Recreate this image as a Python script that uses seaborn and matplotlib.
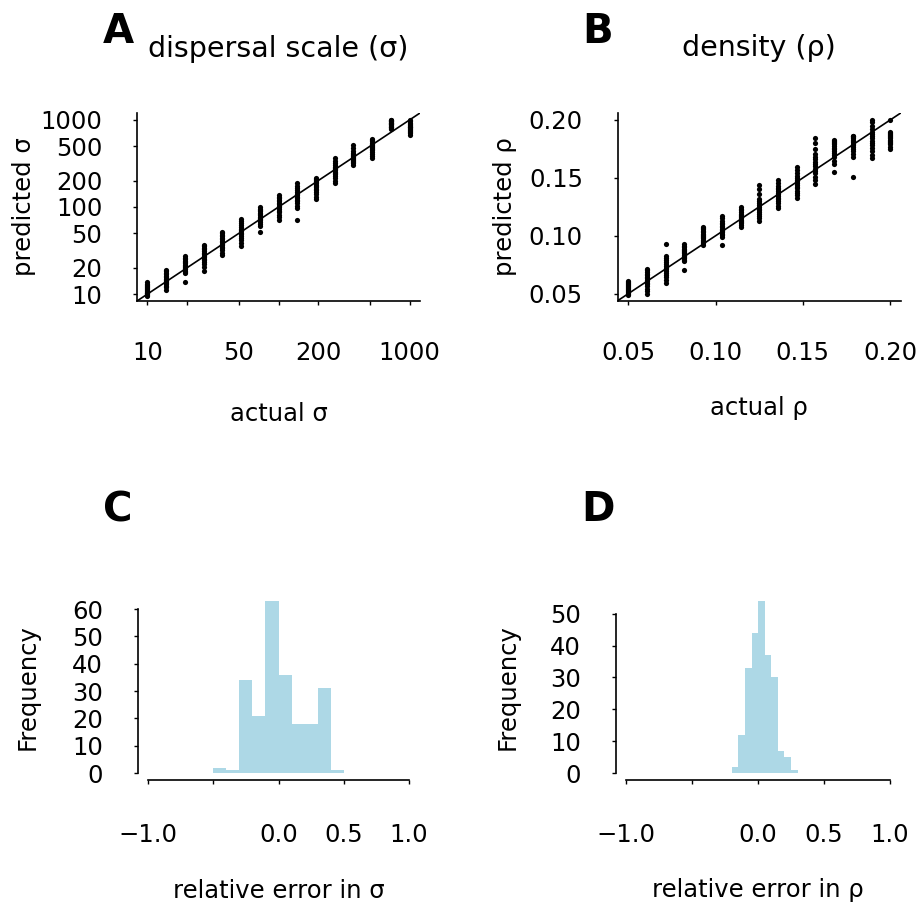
import numpy as np
import pandas as pd
import matplotlib
matplotlib.use("Agg")
import matplotlib.pyplot as plt
import seaborn as sns

sns.set_theme(style="white")
plt.rcParams["font.family"] = ["DejaVu Sans"]
plt.rcParams["axes.unicode_minus"] = True
plt.rcParams["text.color"] = "black"

# ---- dispersal scale: actual values and 15 predictions per value ----
sigma_actual = [10, 13.9, 19.3, 26.8, 37.3, 51.8, 72, 100, 139, 193, 268, 373, 518, 720, 1000]
sigma_pred = [
    [9.5, 9.8, 10.0, 10.2, 10.4, 10.6, 10.9, 11.1, 11.4, 11.7, 12.0, 12.4, 12.8, 13.2, 13.6],
    [11.2, 11.9, 12.4, 12.9, 13.3, 13.7, 14.1, 14.5, 15.0, 15.5, 16.0, 16.8, 17.5, 18.3, 19.0],
    [13.6, 17.4, 18.0, 18.6, 19.2, 19.8, 20.4, 21.0, 21.8, 22.6, 23.4, 24.2, 25.0, 26.0, 27.0],
    [18.6, 20.5, 22.3, 23.6, 24.6, 25.6, 26.6, 27.6, 28.6, 29.8, 31.0, 32.5, 34.0, 35.5, 37.0],
    [28.0, 30.0, 32.0, 33.5, 35.0, 36.5, 38.0, 39.5, 41.0, 42.5, 44.0, 46.0, 48.0, 50.0, 52.0],
    [36.0, 39.0, 42.0, 44.5, 46.5, 48.5, 50.5, 52.5, 54.5, 56.5, 59.0, 62.0, 65.0, 68.5, 72.0],
    [52.0, 60.0, 64.0, 67.0, 70.0, 72.5, 75.0, 77.5, 80.0, 83.0, 86.0, 89.0, 92.0, 95.5, 99.0],
    [70.0, 76.0, 82.0, 87.0, 91.0, 95.0, 99.0, 103.0, 107.0, 111.0, 116.0, 121.0, 126.0, 132.0, 138.0],
    [70.0, 98.0, 104.0, 110.0, 116.0, 121.0, 126.0, 131.0, 136.0, 141.0, 147.0, 155.0, 165.0, 176.0, 188.0],
    [123.0, 132.0, 142.0, 150.0, 157.0, 163.0, 169.0, 175.0, 181.0, 187.0, 193.0, 199.0, 205.0, 211.0, 218.0],
    [188.0, 200.0, 215.0, 228.0, 238.0, 247.0, 255.0, 263.0, 271.0, 280.0, 290.0, 302.0, 318.0, 340.0, 364.0],
    [306.0, 320.0, 332.0, 342.0, 350.0, 358.0, 366.0, 374.0, 382.0, 392.0, 404.0, 418.0, 440.0, 475.0, 513.0],
    [366.0, 385.0, 410.0, 430.0, 448.0, 462.0, 476.0, 490.0, 504.0, 518.0, 532.0, 548.0, 566.0, 588.0, 612.0],
    [779.0, 800.0, 820.0, 840.0, 858.0, 875.0, 890.0, 905.0, 920.0, 935.0, 950.0, 962.0, 975.0, 988.0, 1000.0],
    [680.0, 700.0, 720.0, 740.0, 760.0, 780.0, 800.0, 820.0, 840.0, 860.0, 885.0, 910.0, 935.0, 965.0, 995.0],
]

# ---- density: actual values and 15 predictions per value ----
rho_actual = [0.05, 0.0607, 0.0714, 0.0821, 0.0929, 0.1036, 0.1143, 0.125,
              0.1357, 0.1464, 0.1571, 0.1679, 0.1786, 0.1893, 0.2]
rho_pred = [
    [0.0486, 0.0500, 0.0510, 0.0518, 0.0525, 0.0532, 0.0540, 0.0548, 0.0556, 0.0564, 0.0572, 0.0580, 0.0590, 0.0600, 0.0610],
    [0.0494, 0.0520, 0.0545, 0.0565, 0.0580, 0.0595, 0.0608, 0.0620, 0.0632, 0.0645, 0.0658, 0.0672, 0.0688, 0.0703, 0.0717],
    [0.0593, 0.0620, 0.0645, 0.0665, 0.0682, 0.0698, 0.0712, 0.0726, 0.0740, 0.0755, 0.0770, 0.0788, 0.0808, 0.0830, 0.0929],
    [0.0709, 0.0780, 0.0795, 0.0808, 0.0818, 0.0828, 0.0838, 0.0848, 0.0858, 0.0868, 0.0878, 0.0890, 0.0902, 0.0915, 0.0929],
    [0.0920, 0.0935, 0.0948, 0.0958, 0.0968, 0.0978, 0.0988, 0.0998, 0.1008, 0.1018, 0.1030, 0.1042, 0.1055, 0.1068, 0.1080],
    [0.0920, 0.0990, 0.1005, 0.1018, 0.1030, 0.1040, 0.1050, 0.1060, 0.1072, 0.1085, 0.1098, 0.1112, 0.1128, 0.1150, 0.1170],
    [0.1080, 0.1095, 0.1108, 0.1120, 0.1130, 0.1140, 0.1150, 0.1160, 0.1170, 0.1180, 0.1192, 0.1205, 0.1220, 0.1235, 0.1250],
    [0.1130, 0.1150, 0.1170, 0.1190, 0.1205, 0.1220, 0.1235, 0.1250, 0.1265, 0.1280, 0.1298, 0.1318, 0.1360, 0.1400, 0.1440],
    [0.1240, 0.1260, 0.1280, 0.1300, 0.1315, 0.1330, 0.1345, 0.1358, 0.1372, 0.1386, 0.1400, 0.1415, 0.1432, 0.1455, 0.1480],
    [0.1330, 0.1350, 0.1370, 0.1390, 0.1410, 0.1425, 0.1440, 0.1455, 0.1470, 0.1485, 0.1500, 0.1520, 0.1545, 0.1570, 0.1590],
    [0.1450, 0.1480, 0.1510, 0.1540, 0.1560, 0.1580, 0.1600, 0.1620, 0.1640, 0.1660, 0.1680, 0.1710, 0.1750, 0.1800, 0.1840],
    [0.1550, 0.1620, 0.1650, 0.1680, 0.1700, 0.1715, 0.1730, 0.1745, 0.1760, 0.1775, 0.1790, 0.1800, 0.1810, 0.1820, 0.1830],
    [0.1510, 0.1680, 0.1710, 0.1730, 0.1750, 0.1765, 0.1780, 0.1795, 0.1810, 0.1820, 0.1830, 0.1840, 0.1850, 0.1860, 0.1860],
    [0.1670, 0.1700, 0.1730, 0.1760, 0.1780, 0.1800, 0.1820, 0.1840, 0.1860, 0.1880, 0.1900, 0.1920, 0.1950, 0.1980, 0.2000],
    [0.1750, 0.1770, 0.1790, 0.1800, 0.1810, 0.1820, 0.1830, 0.1840, 0.1850, 0.1860, 0.1870, 0.1880, 0.1890, 0.1900, 0.2000],
]

# ---- relative-error histograms (bin edges and counts) ----
sigma_err_edges = [-0.5, -0.4, -0.3, -0.2, -0.1, 0.0, 0.1, 0.2, 0.3, 0.4, 0.5]
sigma_err_counts = [2, 1, 34, 21, 63, 36, 18, 18, 31, 1]
rho_err_edges = [-0.2, -0.15, -0.1, -0.05, 0.0, 0.05, 0.1, 0.15, 0.2, 0.25, 0.3]
rho_err_counts = [2, 12, 33, 44, 54, 37, 30, 7, 5, 1]

sigma_ticks = [10, 20, 50, 100, 200, 500, 1000]
sigma_xlabels = ["10", "", "50", "", "200", "", "1000"]
rho_ticks = [0.05, 0.10, 0.15, 0.20]
err_ticks = [-1.0, -0.5, 0.0, 0.5, 1.0]
err_labels = ["\u22121.0", "", "0.0", "0.5", "1.0"]


def long_table(actual, pred):
    rows = [(a, p) for a, col in zip(actual, pred) for p in col]
    return pd.DataFrame(rows, columns=["actual", "predicted"])


W, H = 917, 907
fig = plt.figure(figsize=(W / 100, H / 100), dpi=100)


def px_axes(left, top, right, bottom):
    return fig.add_axes([left / W, 1 - bottom / H, (right - left) / W, (bottom - top) / H])


TICK_FS = 17.5
LAB_FS = 17.5
TITLE_FS = 20.5
LETTER_FS = 29
LW = 1.2

axA = px_axes(137, 113, 420, 301)
axB = px_axes(617.7, 113, 900.7, 300.7)
axC = px_axes(137.6, 594, 419.4, 780)
axD = px_axes(615.7, 594, 900.5, 780)

# ---- A: predicted vs actual dispersal scale (log-log) ----
dfA = long_table(sigma_actual, sigma_pred)
sns.scatterplot(data=dfA, x="actual", y="predicted", ax=axA, color="black",
                s=14, linewidth=0, legend=False)
axA.set_xscale("log")
axA.set_yscale("log")
lo, hi = 10 ** 0.92, 10 ** 3.08
axA.set_xlim(lo, hi)
axA.set_ylim(lo, hi)
axA.axline((10, 10), (1000, 1000), color="black", lw=LW)
axA.set_xticks(sigma_ticks)
axA.set_xticklabels(sigma_xlabels)
axA.set_yticks(sigma_ticks)
axA.set_yticklabels([str(t) for t in sigma_ticks])
axA.minorticks_off()
axA.set_xlabel("actual \u03c3")
axA.set_ylabel("predicted \u03c3")

# ---- B: predicted vs actual density ----
dfB = long_table(rho_actual, rho_pred)
sns.scatterplot(data=dfB, x="actual", y="predicted", ax=axB, color="black",
                s=14, linewidth=0, legend=False)
axB.set_xlim(0.044, 0.206)
axB.set_ylim(0.044, 0.206)
axB.axline((0.05, 0.05), (0.2, 0.2), color="black", lw=LW)
axB.set_xticks(rho_ticks)
axB.set_xticklabels([f"{t:.2f}" for t in rho_ticks])
axB.set_yticks(rho_ticks)
axB.set_yticklabels([f"{t:.2f}" for t in rho_ticks])
axB.set_xlabel("actual \u03c1")
axB.set_ylabel("predicted \u03c1")


def draw_hist(ax, edges, counts, ymax_tick):
    centers = [(a + b) / 2 for a, b in zip(edges[:-1], edges[1:])]
    sns.histplot(x=centers, weights=counts, bins=edges, ax=ax, color="#ADD8E6",
                 alpha=1, linewidth=0, edgecolor="none", stat="count")
    top = max(counts)
    ax.set_xlim(-1.08, 1.08)
    ax.set_ylim(-0.04 * top, 1.04 * top)
    ax.set_xticks(err_ticks)
    ax.set_xticklabels(err_labels)
    ax.set_yticks(list(range(0, ymax_tick + 1, 10)))
    ax.spines["left"].set_bounds(0, ymax_tick)
    ax.spines["bottom"].set_bounds(-1, 1)
    ax.set_ylabel("Frequency")


draw_hist(axC, sigma_err_edges, sigma_err_counts, 60)
axC.set_xlabel("relative error in \u03c3")
draw_hist(axD, rho_err_edges, rho_err_counts, 50)
axD.set_xlabel("relative error in \u03c1")

for ax in (axA, axB, axC, axD):
    for side in ("top", "right"):
        ax.spines[side].set_visible(False)
    for side in ("left", "bottom"):
        ax.spines[side].set_color("black")
        ax.spines[side].set_linewidth(LW)
    ax.tick_params(axis="both", which="both", direction="out", length=3, width=1,
                   color="black", labelsize=TICK_FS, labelcolor="black",
                   left=True, bottom=True)
    ax.tick_params(axis="y", pad=22)
    ax.xaxis.label.set_size(LAB_FS)
    ax.yaxis.label.set_size(LAB_FS)
    ax.xaxis.label.set_color("black")
    ax.yaxis.label.set_color("black")
    ax.grid(False)
    ax.set_facecolor("white")

axA.tick_params(axis="x", pad=26)
axB.tick_params(axis="x", pad=26)
axC.tick_params(axis="x", pad=28)
axD.tick_params(axis="x", pad=28)

# axis label placement (axes fraction)
for ax, xl_y, yl_x in ((axA, -0.638, -0.399), (axB, -0.609, -0.398),
                       (axC, -0.634, -0.391), (axD, -0.627, -0.38)):
    ax.xaxis.label.set_va("baseline")
    ax.xaxis.set_label_coords(0.5, xl_y)
    ax.yaxis.label.set_va("center")
    ax.yaxis.set_label_coords(yl_x, 0.5)

# panel letters and titles
def ftext(x, y, s, **kw):
    fig.text(x / W, 1 - y / H, s, color="black", **kw)

ftext(118, 43.3, "A", ha="center", va="baseline", fontsize=LETTER_FS, fontweight="bold")
ftext(598, 43.3, "B", ha="center", va="baseline", fontsize=LETTER_FS, fontweight="bold")
ftext(118, 521, "C", ha="center", va="baseline", fontsize=LETTER_FS, fontweight="bold")
ftext(598, 521, "D", ha="center", va="baseline", fontsize=LETTER_FS, fontweight="bold")
ftext(278.5, 56.7, "dispersal scale (\u03c3)", ha="center", va="baseline", fontsize=TITLE_FS)
ftext(759, 56.0, "density (\u03c1)", ha="center", va="baseline", fontsize=TITLE_FS)

fig.savefig("out.png", dpi=100, facecolor="white")
